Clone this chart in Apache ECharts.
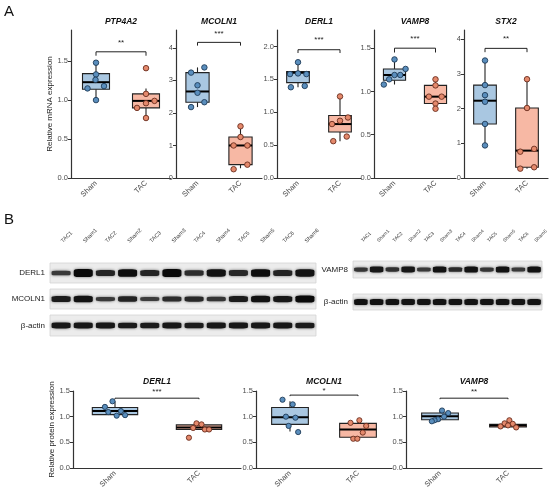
<!DOCTYPE html>
<html><head><meta charset="utf-8">
<script src="https://cdn.jsdelivr.net/npm/echarts@6/dist/echarts.min.js"></script>
<style>html,body{margin:0;padding:0;background:#fff}#c{width:550px;height:491px}</style>
</head><body><div id="c"></div>
<script>
// ---------------- DATA ----------------
const groups = ['Sham', 'TAC'];
const lanes = ['TAC1','Sham1','TAC2','Sham2','TAC3','Sham3','TAC4','Sham4','TAC5','Sham5','TAC6','Sham6'];

// mRNA (panel A)
const mrnaGenes = ['PTP4A2', 'MCOLN1', 'DERL1', 'VAMP8', 'STX2'];
const ptp4a2Sham = [1.48, 1.33, 1.26, 1.15, 1.18, 1.00];
const ptp4a2ShamJit = [0, 0, -0.01, -0.17, 0.16, 0];
const ptp4a2Tac = [1.41, 1.08, 0.96, 0.99, 0.90, 0.77];
const ptp4a2TacJit = [0, 0, 0, 0.17, -0.18, 0];
const ptp4a2Box = [[1.00, 1.14, 1.23, 1.34, 1.48], [0.77, 0.90, 0.99, 1.08, 1.15]];

const mcoln1Sham = [3.24, 3.40, 2.85, 2.62, 2.18, 2.33];
const mcoln1ShamJit = [-0.15, 0.16, 0, 0, -0.15, 0.16];
const mcoln1Tac = [1.59, 1.26, 1.00, 1.00, 0.41, 0.27];
const mcoln1TacJit = [0, 0, -0.16, 0.16, 0.16, -0.16];
const mcoln1Box = [[2.18, 2.33, 2.66, 3.24, 3.40], [0.30, 0.41, 1.00, 1.26, 1.59]];

const derl1Sham = [1.76, 1.58, 1.59, 1.58, 1.38, 1.40];
const derl1ShamJit = [0, -0.19, 0, 0.2, -0.17, 0.16];
const derl1Tac = [1.24, 0.92, 0.87, 0.82, 0.63, 0.56];
const derl1TacJit = [0, 0.19, 0, -0.19, 0.16, -0.16];
const derl1Box = [[1.38, 1.45, 1.60, 1.62, 1.76], [0.56, 0.70, 0.82, 0.95, 1.24]];

const vamp8Sham = [1.37, 1.26, 1.19, 1.19, 1.14, 1.08];
const vamp8ShamJit = [0, 0.27, 0.14, 0, -0.13, -0.26];
const vamp8Tac = [1.14, 1.07, 0.94, 0.94, 0.86, 0.80];
const vamp8TacJit = [0, 0, -0.16, 0.15, 0, 0];
const vamp8Box = [[1.08, 1.13, 1.19, 1.26, 1.37], [0.80, 0.86, 0.94, 1.07, 1.14]];

const stx2Sham = [3.39, 2.68, 2.39, 2.20, 1.56, 0.94];
const stx2ShamJit = [0, 0, 0, 0, 0, 0];
const stx2Tac = [2.85, 2.02, 0.84, 0.76, 0.27, 0.31];
const stx2TacJit = [0, 0, 0.17, -0.16, -0.16, 0.17];
const stx2Box = [[0.94, 1.56, 2.23, 2.68, 3.39], [0.27, 0.31, 0.79, 2.02, 2.85]];

const mrnaMax = [1.9, 4.55, 2.25, 1.71, 4.27];
const mrnaTicks = [[0, 0.5, 1, 1.5], [0, 1, 2, 3, 4], [0, 0.5, 1, 1.5, 2], [0, 0.5, 1, 1.5], [0, 1, 2, 3, 4]];
const mrnaDecimals = [1, 0, 1, 1, 0];
const mrnaBracket = [1.62, 4.17, 1.95, 1.50, 3.74];
const mrnaBracketEnd = [1.57, 4.07, 1.90, 1.45, 3.63];
const mrnaStarPos = [1.73, 4.43, 2.10, 1.61, 4.02];
const mrnaStars = ['**', '***', '***', '***', '**'];

// western blot band intensities (0..1)
const blotDerl1 = [0.45, 1.0, 0.7, 0.95, 0.7, 1.0, 0.6, 0.9, 0.65, 0.95, 0.7, 0.9];
const blotMcoln1 = [0.8, 0.9, 0.45, 0.7, 0.4, 0.6, 0.65, 0.5, 0.8, 0.9, 0.85, 1.0];
const blotActin1 = [0.85, 0.85, 0.85, 0.8, 0.8, 0.85, 0.8, 0.85, 0.85, 0.85, 0.85, 0.8];
const blotVamp8 = [0.5, 0.85, 0.55, 0.85, 0.45, 0.9, 0.6, 0.9, 0.5, 0.9, 0.45, 0.9];
const blotActin2 = [0.9, 0.9, 0.9, 0.88, 0.88, 0.9, 0.88, 0.9, 0.88, 0.9, 0.88, 0.9];

// protein (panel B)
const protGenes = ['DERL1', 'MCOLN1', 'VAMP8'];
const pDerl1Sham = [1.30, 1.19, 1.09, 1.11, 1.02, 1.03];
const pDerl1ShamJit = [-0.03, -0.12, -0.08, 0.07, 0.02, 0.12];
const pDerl1Tac = [0.87, 0.85, 0.78, 0.75, 0.75, 0.59];
const pDerl1TacJit = [-0.03, 0.03, -0.07, 0.07, 0.12, -0.12];
const pDerl1Box = [[1.02, 1.04, 1.11, 1.18, 1.30], [0.75, 0.75, 0.79, 0.84, 0.87]];

const pMcoln1Sham = [1.33, 1.24, 1.00, 0.98, 0.82, 0.70];
const pMcoln1ShamJit = [-0.11, 0.04, -0.06, 0.08, -0.02, 0.12];
const pMcoln1Tac = [0.88, 0.93, 0.82, 0.69, 0.57, 0.57];
const pMcoln1TacJit = [-0.11, 0.02, 0.12, 0.07, -0.07, -0.01];
const pMcoln1Box = [[0.71, 0.85, 0.99, 1.18, 1.30], [0.57, 0.60, 0.75, 0.87, 0.93]];

const pVamp8Sham = [1.12, 1.07, 1.00, 0.95, 0.93, 0.91];
const pVamp8ShamJit = [0.03, 0.12, 0.06, -0.03, -0.08, -0.12];
const pVamp8Tac = [0.93, 0.87, 0.86, 0.81, 0.79, 0.83];
const pVamp8TacJit = [0.02, -0.05, 0.07, -0.11, 0.12, 0];
const pVamp8Box = [[0.91, 0.94, 1.01, 1.07, 1.12], [0.79, 0.80, 0.83, 0.85, 0.94]];

const protTicks = [0, 0.5, 1, 1.5];
const protBracket = [1.36, 1.42, 1.36];
const protBracketEnd = [1.34, 1.40, 1.34];
const protStarPos = [1.49, 1.50, 1.49];
const protStars = ['***', '*', '**'];

// ---------------- BUILD ----------------
const FONT = '"Liberation Sans", Arial, sans-serif';
const SHAM_FILL = '#a9c7e1', TAC_FILL = '#f7b8a4';
const SHAM_PT = '#5a8ebd', TAC_PT = '#e4896c';
const SHAM_PT_B = '#1e3b58', TAC_PT_B = '#6a2d1d';
const grids = [], xAxes = [], yAxes = [], series = [], graphics = [];

function boxPlot(p) {
  const gi = grids.length;
  grids.push({ left: p.left, top: p.top, width: p.width, height: p.height });
  xAxes.push({
    type: 'category', gridIndex: gi, data: groups, boundaryGap: true,
    axisLine: { lineStyle: { color: '#333', width: 1.2 } },
    axisTick: { alignWithLabel: true, length: 3, lineStyle: { color: '#333' } },
    axisLabel: { rotate: 45, fontSize: p.xFont, color: '#4d4d4d', margin: 4, fontFamily: FONT },
    splitLine: { show: false }
  });
  const xVal = xAxes.length;
  xAxes.push({ type: 'value', gridIndex: gi, min: 0.5, max: 2.5, show: false });
  const yi = yAxes.length;
  yAxes.push({
    type: 'value', gridIndex: gi, min: 0, max: p.max,
    axisLine: { show: true, lineStyle: { color: '#333', width: 1.2 } },
    axisTick: { show: true, length: 3, customValues: p.ticks, lineStyle: { color: '#333' } },
    axisLabel: { customValues: p.ticks, formatter: v => v.toFixed(p.dec), fontSize: 7.5, color: '#4d4d4d', margin: 3, fontFamily: FONT },
    splitLine: { show: false },
    name: p.yName || '', nameLocation: 'middle', nameGap: 17,
    nameTextStyle: { fontSize: 8, color: '#222', fontFamily: FONT }
  });
  const hw = 0.27;
  series.push({
    type: 'custom', xAxisIndex: xVal, yAxisIndex: yi, z: 2,
    data: [[1, ...p.box[0], 0], [2, ...p.box[1], 1]],
    encode: { x: 0, y: [1, 2, 3, 4, 5] },
    renderItem: (params, api) => {
      const x = api.value(0), lo = api.value(1), q1 = api.value(2), med = api.value(3), q3 = api.value(4), hi = api.value(5);
      const fill = api.value(6) === 0 ? SHAM_FILL : TAC_FILL;
      const a = api.coord([x - hw, q3]), b = api.coord([x + hw, q1]);
      const m1 = api.coord([x - hw, med]), m2 = api.coord([x + hw, med]);
      const h = api.coord([x, hi]), t = api.coord([x, q3]), u = api.coord([x, q1]), l = api.coord([x, lo]);
      return { type: 'group', children: [
        { type: 'line', shape: { x1: h[0], y1: h[1], x2: t[0], y2: t[1] }, style: { stroke: '#222', lineWidth: 1.1 } },
        { type: 'line', shape: { x1: u[0], y1: u[1], x2: l[0], y2: l[1] }, style: { stroke: '#222', lineWidth: 1.1 } },
        { type: 'rect', shape: { x: a[0], y: a[1], width: b[0] - a[0], height: b[1] - a[1] }, style: { fill: fill, stroke: '#222', lineWidth: 1.1 } },
        { type: 'line', shape: { x1: m1[0], y1: m1[1], x2: m2[0], y2: m2[1] }, style: { stroke: '#000', lineWidth: 2 } }
      ] };
    }
  });
  series.push({
    type: 'scatter', xAxisIndex: xVal, yAxisIndex: yi, z: 5, symbolSize: p.pt,
    data: p.sham.map((v, i) => [1 + p.shamJit[i], v]),
    itemStyle: { color: SHAM_PT, borderColor: SHAM_PT_B, borderWidth: 0.9, opacity: 1 }
  });
  series.push({
    type: 'scatter', xAxisIndex: xVal, yAxisIndex: yi, z: 5, symbolSize: p.pt,
    data: p.tac.map((v, i) => [2 + p.tacJit[i], v]),
    itemStyle: { color: TAC_PT, borderColor: TAC_PT_B, borderWidth: 0.9, opacity: 1 }
  });
  series.push({
    type: 'custom', xAxisIndex: xVal, yAxisIndex: yi, z: 6,
    data: [[1.5, p.bracket, p.bracketEnd, p.starPos]],
    encode: { x: 0, y: 1 },
    renderItem: (params, api) => {
      const y = api.value(1), e = api.value(2), s = api.value(3);
      const pts = [api.coord([1, e]), api.coord([1, y]), api.coord([2, y]), api.coord([2, e])];
      const sp = api.coord([1.5, s]);
      return { type: 'group', children: [
        { type: 'polyline', shape: { points: pts }, style: { stroke: '#222', lineWidth: 1, fill: null } },
        { type: 'text', x: sp[0], y: sp[1], style: { text: p.stars, textAlign: 'center', textVerticalAlign: 'middle', fontSize: 8, fontFamily: FONT, fill: '#222' } }
      ] };
    }
  });
  graphics.push({ type: 'text', x: p.left + p.width / 2, y: p.titleY,
    style: { text: p.title, textAlign: 'center', textVerticalAlign: 'middle', font: 'italic bold 8.5px ' + FONT, fill: '#111' } });
}

function blotRow(b) {
  const gi = grids.length;
  grids.push({ left: b.left, top: b.top, width: b.width, height: b.height, show: true,
    backgroundColor: '#ececec', borderColor: '#d4d4d4', borderWidth: 0.8 });
  const xi = xAxes.length;
  xAxes.push({ type: 'category', gridIndex: gi, data: lanes, position: 'top',
    axisLine: { show: false }, axisTick: { show: false }, axisLabel: { show: false } });
  const yi = yAxes.length;
  yAxes.push({ type: 'category', gridIndex: gi, data: [b.name],
    axisLine: { show: false }, axisTick: { show: false },
    axisLabel: { fontSize: 8, color: '#222', margin: 5, fontFamily: FONT } });
  series.push({
    type: 'scatter', xAxisIndex: xi, yAxisIndex: yi, z: 3, silent: true,
    data: b.vals.map((v, i) => [i, 0, v]),
    symbol: 'roundRect',
    symbolSize: v => [b.bandW, 2 + b.thick * v[2]],
    itemStyle: {
      color: p => { const g = Math.round(95 - 85 * p.value[2]); return 'rgb(' + g + ',' + g + ',' + g + ')'; },
      shadowBlur: 3, shadowColor: 'rgba(0,0,0,0.55)', opacity: 1
    }
  });
  if (b.labels) {
    // lane names rising at 45 degrees above the blot, positioned through the lane scale
    series.push({
      type: 'custom', xAxisIndex: xi, yAxisIndex: yi, z: 4, silent: true,
      data: lanes.map((l, i) => [i, 0]),
      encode: { x: 0, y: 1 },
      renderItem: (params, api) => {
        const c = api.coord([api.value(0), 0]);
        const top = params.coordSys.y;
        return { type: 'text', x: c[0] + b.dx, y: top - b.margin, rotation: Math.PI / 4,
          style: { text: lanes[params.dataIndex], textAlign: 'left', textVerticalAlign: 'bottom',
            fontSize: b.labelFont, fontFamily: FONT, fill: '#333' } };
      }
    });
  }
}

// panel A layout
const mrnaLayout = [
  { left: 71, width: 100 }, { left: 176, width: 86 }, { left: 277, width: 84 },
  { left: 374, width: 82 }, { left: 464, width: 84 }
];
const mrnaSham = [ptp4a2Sham, mcoln1Sham, derl1Sham, vamp8Sham, stx2Sham];
const mrnaShamJit = [ptp4a2ShamJit, mcoln1ShamJit, derl1ShamJit, vamp8ShamJit, stx2ShamJit];
const mrnaTac = [ptp4a2Tac, mcoln1Tac, derl1Tac, vamp8Tac, stx2Tac];
const mrnaTacJit = [ptp4a2TacJit, mcoln1TacJit, derl1TacJit, vamp8TacJit, stx2TacJit];
const mrnaBox = [ptp4a2Box, mcoln1Box, derl1Box, vamp8Box, stx2Box];
mrnaGenes.forEach((g, i) => boxPlot({
  left: mrnaLayout[i].left, width: mrnaLayout[i].width, top: 30, height: 148,
  max: mrnaMax[i], ticks: mrnaTicks[i], dec: mrnaDecimals[i], title: g, titleY: 22,
  box: mrnaBox[i], sham: mrnaSham[i], shamJit: mrnaShamJit[i], tac: mrnaTac[i], tacJit: mrnaTacJit[i],
  bracket: mrnaBracket[i], bracketEnd: mrnaBracketEnd[i], starPos: mrnaStarPos[i], stars: mrnaStars[i],
  yName: i === 0 ? 'Relative mRNA expression' : '', xFont: 7.5, pt: 5.5
}));

// blots
blotRow({ left: 50, width: 266, top: 263, height: 20, name: 'DERL1', vals: blotDerl1, labels: true, labelFont: 5.5, margin: 19, dx: 3, bandW: 19, thick: 6 });
blotRow({ left: 50, width: 266, top: 289, height: 20, name: 'MCOLN1', vals: blotMcoln1, bandW: 19, thick: 5 });
blotRow({ left: 50, width: 266, top: 315, height: 21, name: 'β-actin', vals: blotActin1, bandW: 19, thick: 4.5 });
blotRow({ left: 353, width: 189, top: 261, height: 17, name: 'VAMP8', vals: blotVamp8, labels: true, labelFont: 4.8, margin: 18, dx: 3, bandW: 13.5, thick: 4.5 });
blotRow({ left: 353, width: 189, top: 294, height: 16, name: 'β-actin', vals: blotActin2, bandW: 13.5, thick: 4.5 });

// panel B quantification
const protLayout = [{ left: 73, width: 168 }, { left: 256, width: 136 }, { left: 406, width: 136 }];
const protSham = [pDerl1Sham, pMcoln1Sham, pVamp8Sham];
const protShamJit = [pDerl1ShamJit, pMcoln1ShamJit, pVamp8ShamJit];
const protTac = [pDerl1Tac, pMcoln1Tac, pVamp8Tac];
const protTacJit = [pDerl1TacJit, pMcoln1TacJit, pVamp8TacJit];
const protBox = [pDerl1Box, pMcoln1Box, pVamp8Box];
protGenes.forEach((g, i) => boxPlot({
  left: protLayout[i].left, width: protLayout[i].width, top: 391, height: 77,
  max: 1.5, ticks: protTicks, dec: 1, title: g, titleY: 382,
  box: protBox[i], sham: protSham[i], shamJit: protShamJit[i], tac: protTac[i], tacJit: protTacJit[i],
  bracket: protBracket[i], bracketEnd: protBracketEnd[i], starPos: protStarPos[i], stars: protStars[i],
  yName: i === 0 ? 'Relative protein expression' : '', xFont: 7.5, pt: 5.2
}));

graphics.push({ type: 'text', x: 4, y: 12, style: { text: 'A', textVerticalAlign: 'middle', font: '15px ' + FONT, fill: '#111' } });
graphics.push({ type: 'text', x: 4, y: 220, style: { text: 'B', textVerticalAlign: 'middle', font: '15px ' + FONT, fill: '#111' } });

const chart = echarts.init(document.getElementById('c'), null, { width: 550, height: 491 });
chart.setOption({
  animation: false,
  backgroundColor: '#fff',
  textStyle: { fontFamily: FONT },
  grid: grids, xAxis: xAxes, yAxis: yAxes, series: series,
  graphic: graphics
});
</script></body></html>
